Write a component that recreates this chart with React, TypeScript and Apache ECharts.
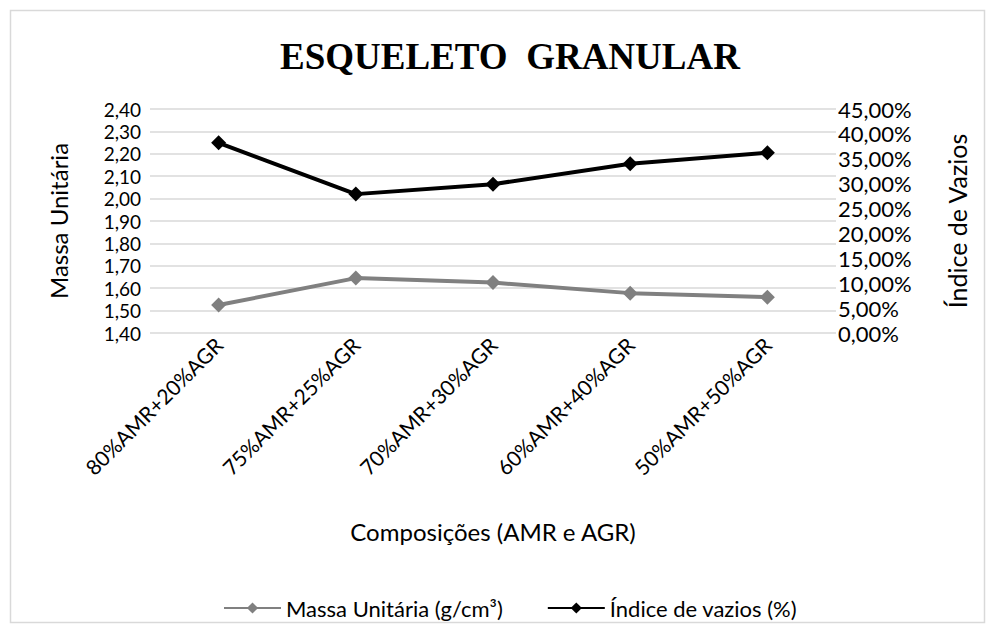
import React, { useEffect, useRef } from "react";
import * as echarts from "echarts";

const composicoes = [
  "80%AMR+20%AGR",
  "75%AMR+25%AGR",
  "70%AMR+30%AGR",
  "60%AMR+40%AGR",
  "50%AMR+50%AGR",
];
// g/cm³
const massaUnitaria = [1.525, 1.645, 1.625, 1.578, 1.56];
// %
const indiceVazios = [38.2, 27.9, 29.9, 34.0, 36.2];

const FONT = "Lato, 'Open Sans', sans-serif";

export default function App() {
  const ref = useRef<HTMLDivElement>(null);

  useEffect(() => {
    if (!ref.current) return;
    const chart = echarts.init(ref.current, undefined, { renderer: "svg" });
    chart.setOption({
      animation: false,
      backgroundColor: "#ffffff",
      textStyle: { fontFamily: FONT },
      title: {
        text: "ESQUELETO  GRANULAR",
        left: 505,
        top: 33,
        textAlign: "center",
        textStyle: {
          fontFamily: "'Liberation Serif', 'Times New Roman', serif",
          fontWeight: "bold",
          fontSize: 37,
          color: "#000000",
        },
      },
      graphic: [
        {
          type: "rect",
          shape: { x: 10.5, y: 10.5, width: 974, height: 612 },
          style: { fill: "none", stroke: "#d9d9d9", lineWidth: 1.5 },
          silent: true,
        },
      ],
      legend: {
        left: 218,
        top: 592,
        itemWidth: 57,
        itemHeight: 14,
        itemGap: 44,
        textStyle: { fontFamily: FONT, fontSize: 22, color: "#000000" },
        data: ["Massa Unitária (g/cm³)", "Índice de vazios (%)"],
      },
      grid: { left: 150, right: 158, top: 109, bottom: 299, containLabel: false },
      xAxis: {
        type: "category",
        data: composicoes,
        boundaryGap: true,
        axisLine: { show: false },
        axisTick: { show: false },
        axisLabel: {
          rotate: 45,
          fontSize: 21,
          color: "#000000",
          fontFamily: FONT,
          margin: 8,
          interval: 0,
        },
        name: "Composições (AMR e AGR)",
        nameLocation: "middle",
        nameGap: 186,
        nameTextStyle: { fontSize: 24, color: "#000000", fontFamily: FONT },
      },
      yAxis: [
        {
          type: "value",
          min: 1.4,
          max: 2.4,
          interval: 0.1,
          position: "left",
          axisLine: { show: false },
          axisTick: { show: false },
          splitLine: { lineStyle: { color: "#d9d9d9", width: 1.5 } },
          axisLabel: {
            fontSize: 19,
            lineHeight: 19,
            color: "#000000",
            fontFamily: FONT,
            margin: 9,
            formatter: (v: number) => v.toFixed(2).replace(".", ","),
          },
          name: "Massa Unitária",
          nameLocation: "middle",
          nameRotate: 90,
          nameGap: 80,
          nameTextStyle: { fontSize: 24, color: "#000000", fontFamily: FONT },
        },
        {
          type: "value",
          min: 0,
          max: 45,
          interval: 5,
          position: "right",
          axisLine: { show: false },
          axisTick: { show: false },
          splitLine: { show: false },
          axisLabel: {
            fontSize: 22,
            lineHeight: 22,
            color: "#000000",
            fontFamily: FONT,
            margin: 2,
            formatter: (v: number) => v.toFixed(2).replace(".", ",") + "%",
          },
          name: "Índice de Vazios",
          nameLocation: "middle",
          nameRotate: 90,
          nameGap: 108,
          nameTextStyle: { fontSize: 25, color: "#000000", fontFamily: FONT },
        },
      ],
      series: [
        {
          name: "Massa Unitária (g/cm³)",
          type: "line",
          yAxisIndex: 0,
          data: massaUnitaria,
          symbol: "diamond",
          symbolSize: 15,
          lineStyle: { color: "#808080", width: 4 },
          itemStyle: { color: "#808080" },
        },
        {
          name: "Índice de vazios (%)",
          type: "line",
          yAxisIndex: 1,
          data: indiceVazios,
          symbol: "diamond",
          symbolSize: 15,
          lineStyle: { color: "#000000", width: 4 },
          itemStyle: { color: "#000000" },
        },
      ],
    });
    return () => chart.dispose();
  }, []);

  return (
    <div
      ref={ref}
      style={{ position: "fixed", left: 0, top: 0, width: 994, height: 632 }}
    />
  );
}
